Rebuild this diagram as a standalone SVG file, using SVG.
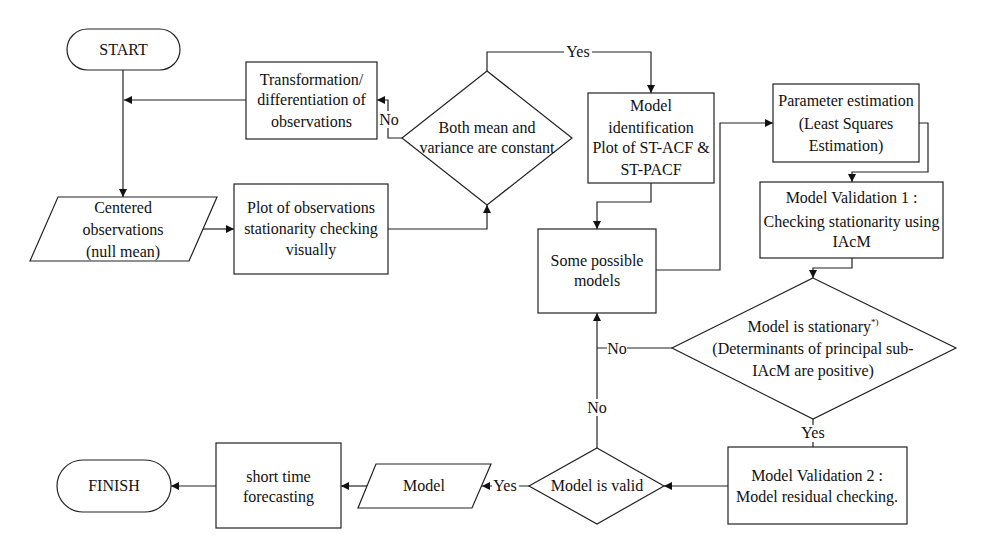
<svg xmlns="http://www.w3.org/2000/svg" width="983" height="553" viewBox="0 0 983 553">
<style>
.s{fill:#fff;stroke:#222;stroke-width:1.2}
.c{fill:none;stroke:#222;stroke-width:1.2}
text{font-family:"Liberation Serif","Times New Roman",serif;font-size:16px;fill:#111;text-anchor:middle}
.bg{fill:#fff}
</style>
<defs>
<marker id="a" markerUnits="userSpaceOnUse" markerWidth="9" markerHeight="9" refX="8" refY="4" orient="auto">
<path d="M0,0 L8,4 L0,8 z" fill="#111"/>
</marker>
</defs>
<rect width="983" height="553" fill="#fff"/>
<g id="connectors">
<path class="c" d="M123,70 V197" marker-end="url(#a)"/>
<path class="c" d="M246,100 H124" marker-end="url(#a)"/>
<path class="c" d="M203,229 H234" marker-end="url(#a)"/>
<path class="c" d="M388,229 H487 V205" marker-end="url(#a)"/>
<path class="c" d="M402,138 H388 V100 H377" marker-end="url(#a)"/>
<path class="c" d="M487,71 V52 H651 V93" marker-end="url(#a)"/>
<path class="c" d="M651,183 V202 H597 V229" marker-end="url(#a)"/>
<path class="c" d="M656,270 H720 V123 H773" marker-end="url(#a)"/>
<path class="c" d="M919,123 H928 V172 H852 V182" marker-end="url(#a)"/>
<path class="c" d="M852,258 V268 H813 V278" marker-end="url(#a)"/>
<path class="c" d="M813,419 V447"/>
<path class="c" d="M672,348 H597"/>
<path class="c" d="M597,448 V313" marker-end="url(#a)"/>
<path class="c" d="M728,486 H664" marker-end="url(#a)"/>
<path class="c" d="M529,486 H482" marker-end="url(#a)"/>
<path class="c" d="M367,486 H341" marker-end="url(#a)"/>
<path class="c" d="M216,486 H171" marker-end="url(#a)"/>
<rect class="bg" x="379" y="111" width="20" height="17"/>
<text x="389" y="125">No</text>
<rect class="bg" x="564" y="44" width="28" height="17"/>
<text x="578" y="57">Yes</text>
<rect class="bg" x="800" y="425" width="27" height="17"/>
<text x="813" y="438">Yes</text>
<rect class="bg" x="607" y="340" width="20" height="17"/>
<text x="617" y="354">No</text>
<rect class="bg" x="587" y="399" width="20" height="17"/>
<text x="597" y="413">No</text>
<rect class="bg" x="492" y="477" width="27" height="17"/>
<text x="505" y="491">Yes</text>
</g>
<g id="start">
<rect class="s" x="67" y="29" width="113" height="41" rx="20.5"/>
<text x="123.5" y="55">START</text>
</g>
<g id="transformation">
<rect class="s" x="246" y="62" width="131" height="77"/>
<text x="311.5" y="85">Transformation/</text>
<text x="311.5" y="105">differentiation of</text>
<text x="311.5" y="127">observations</text>
</g>
<g id="centered">
<polygon class="s" points="58,197 217,197 189,261 30,261"/>
<text x="123" y="213">Centered</text>
<text x="123" y="235">observations</text>
<text x="123" y="257">(null mean)</text>
</g>
<g id="plot">
<rect class="s" x="234" y="184" width="154" height="90"/>
<text x="311" y="213">Plot of observations</text>
<text x="311" y="234">stationarity checking</text>
<text x="311" y="255">visually</text>
</g>
<g id="decision-constant">
<polygon class="s" points="487,71 572,138 487,205 402,138"/>
<text x="487" y="133">Both mean and</text>
<text x="487" y="153">variance are constant</text>
</g>
<g id="model-identification">
<rect class="s" x="588" y="93" width="126" height="90"/>
<text x="651" y="111">Model</text>
<text x="651" y="133">identification</text>
<text x="651" y="153">Plot of ST-ACF &amp;</text>
<text x="651" y="175">ST-PACF</text>
</g>
<g id="possible-models">
<rect class="s" x="538" y="229" width="118" height="84"/>
<text x="597" y="266">Some possible</text>
<text x="597" y="286">models</text>
</g>
<g id="parameter-estimation">
<rect class="s" x="773" y="84" width="146" height="78"/>
<text x="846" y="106">Parameter estimation</text>
<text x="846" y="129">(Least Squares</text>
<text x="846" y="151">Estimation)</text>
</g>
<g id="validation1">
<rect class="s" x="760" y="182" width="183" height="76"/>
<text x="851.5" y="203">Model Validation 1 :</text>
<text x="851.5" y="227">Checking stationarity using</text>
<text x="851.5" y="247">IAcM</text>
</g>
<g id="decision-stationary">
<polygon class="s" points="813,278 956,348 813,419 672,348"/>
<text x="813" y="332">Model is stationary<tspan font-size="9" dy="-7">*)</tspan></text>
<text x="813" y="354">(Determinants of principal sub-</text>
<text x="813" y="376">IAcM are positive)</text>
</g>
<g id="validation2">
<rect class="s" x="728" y="447" width="179" height="77"/>
<text x="817" y="481">Model Validation 2 :</text>
<text x="817" y="502">Model residual checking.</text>
</g>
<g id="decision-valid">
<polygon class="s" points="597,448 664,486 597,524 529,486"/>
<text x="597" y="491">Model is valid</text>
</g>
<g id="model">
<polygon class="s" points="376,464 491,464 472,508 358,508"/>
<text x="424" y="491">Model</text>
</g>
<g id="forecasting">
<rect class="s" x="216" y="443" width="125" height="85"/>
<text x="278.5" y="482">short time</text>
<text x="278.5" y="502">forecasting</text>
</g>
<g id="finish">
<rect class="s" x="57" y="460" width="114" height="52" rx="26"/>
<text x="114" y="491">FINISH</text>
</g>
</svg>
